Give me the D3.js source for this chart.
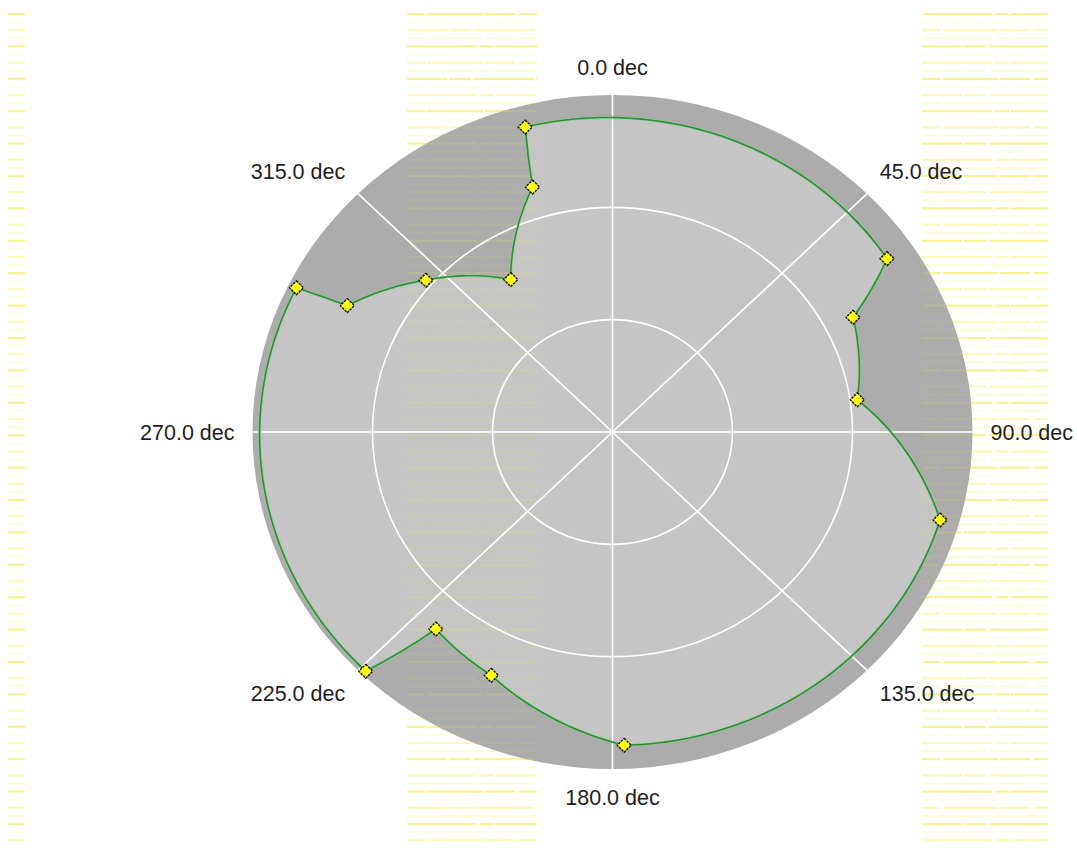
<!DOCTYPE html>
<html>
<head>
<meta charset="utf-8">
<script src="https://cdn.jsdelivr.net/npm/d3@7"></script>
<style>
  html, body { margin: 0; padding: 0; background: #ffffff; }
  svg { display: block; }
  text { font-family: "Liberation Sans", Arial, sans-serif; fill: #1e1e1e; }
</style>
</head>
<body>
<svg id="chart" width="1077" height="852"></svg>
<script>
// Polar series: angle in degrees (clockwise from north) and radial value.
const angles = [56, 63, 82, 106, 178, 205, 220, 224, 296, 297, 311, 328, 343, 345];
const values = [276, 225, 206, 284, 279, 239, 229, 296, 293, 248, 206, 160, 228, 281];

// Angular axis labels and radial grid levels.
const angleTicks = [0, 45, 90, 135, 180, 225, 270, 315];
const angleTickLabels = ["0.0 dec", "45.0 dec", "90.0 dec", "135.0 dec", "180.0 dec", "225.0 dec", "270.0 dec", "315.0 dec"];
const radialMax = 300;
const radialGrid = [100, 200];

// Pale yellow banded columns behind the plot.
const bandColumns = [[8, 25], [407, 537], [922, 1048]];

const W = 1077, H = 852;
const cx = 612.5, cy = 432, rx = 360, ry = 337;

const svg = d3.select("#chart");

const rScale = d3.scaleLinear().domain([0, radialMax]).range([0, 1]);
const aScale = d3.scaleLinear().domain([0, 360]).range([0, 2 * Math.PI]);

function px(a, v) { return cx + rx * rScale(v) * Math.sin(aScale(a)); }
function py(a, v) { return cy - ry * rScale(v) * Math.cos(aScale(a)); }

// Background bands
function drawBands(g, opacityScale) {
  const cycle = [0.6, 0.12, 0.38, 0.2];
  bandColumns.forEach(([x0, x1], ci) => {
    const ys = d3.range(14, 848, 8.1);
    g.selectAll(null)
      .data(ys)
      .join("line")
      .attr("x1", x0).attr("x2", x1)
      .attr("y1", d => d).attr("y2", d => d)
      .attr("stroke", "#f2f04c")
      .attr("stroke-width", 2.2)
      .attr("stroke-dasharray", (d, i) => ["40,2,22,3,60,2", "18,3,55,2,30,4", "70,3,14,2,44,2"][(i + ci) % 3])
      .attr("opacity", (d, i) => cycle[i % 4] * opacityScale);
  });
}

drawBands(svg.append("g"), 1);

const defs = svg.append("defs");
defs.append("clipPath").attr("id", "plotClip")
  .append("ellipse").attr("cx", cx).attr("cy", cy).attr("rx", rx).attr("ry", ry);

// Plot area
svg.append("ellipse")
  .attr("cx", cx).attr("cy", cy).attr("rx", rx).attr("ry", ry)
  .attr("fill", "#acacac");

// Series, sampled along each segment in polar space so segments follow arcs
const pts = angles.map((a, i) => ({ a, v: values[i] }));
function polarSamples(points) {
  const out = [];
  const n = points.length;
  for (let i = 0; i < n; i++) {
    const p0 = points[i];
    const p1 = points[(i + 1) % n];
    let a1 = p1.a;
    if (a1 < p0.a) a1 += 360;
    const steps = Math.max(2, Math.ceil((a1 - p0.a) / 1));
    const ia = d3.interpolateNumber(p0.a, a1);
    const iv = d3.interpolateNumber(p0.v, p1.v);
    for (let k = 0; k < steps; k++) {
      const t = k / steps;
      out.push({ a: ia(t), v: iv(t) });
    }
  }
  return out;
}
const samples = polarSamples(pts);
const line = d3.line().x(d => px(d.a, d.v)).y(d => py(d.a, d.v));

svg.append("path")
  .attr("d", line(samples) + "Z")
  .attr("fill", "#c5c5c5");

// Faint band show-through inside the plot area
drawBands(svg.append("g").attr("clip-path", "url(#plotClip)"), 0.25);

// Grid
const grid = svg.append("g").attr("stroke", "#ffffff").attr("stroke-width", 1.6).attr("fill", "none");
grid.selectAll("ellipse")
  .data(radialGrid)
  .join("ellipse")
  .attr("cx", cx).attr("cy", cy)
  .attr("rx", d => rx * rScale(d))
  .attr("ry", d => ry * rScale(d));
grid.selectAll("line")
  .data(angleTicks)
  .join("line")
  .attr("x1", cx).attr("y1", cy)
  .attr("x2", d => px(d, radialMax))
  .attr("y2", d => py(d, radialMax));

// Angular labels placed just outside the plot edge
const pad = 18;
svg.append("g").selectAll("text")
  .data(angleTicks)
  .join("text")
  .attr("x", d => cx + (rx + pad) * Math.sin(aScale(d)))
  .attr("y", d => cy - (ry + pad) * Math.cos(aScale(d)))
  .attr("font-size", 21.5)
  .attr("text-anchor", d => {
    const s = Math.sin(aScale(d));
    return s > 0.01 ? "start" : s < -0.01 ? "end" : "middle";
  })
  .attr("dy", d => {
    const c = Math.cos(aScale(d));
    return c > 0.01 ? "-0.08em" : c < -0.01 ? "0.85em" : "0.35em";
  })
  .text((d, i) => angleTickLabels[i]);

// Series line
svg.append("path")
  .attr("d", line(samples) + "Z")
  .attr("fill", "none")
  .attr("stroke", "#8fd08f")
  .attr("stroke-width", 3.2)
  .attr("stroke-opacity", 0.6);
svg.append("path")
  .attr("d", line(samples) + "Z")
  .attr("fill", "none")
  .attr("stroke", "#2e8f3a")
  .attr("stroke-width", 1.6);

// Markers
const diamond = d3.symbol().type(d3.symbolSquare).size(98);
svg.append("g").selectAll("path")
  .data(pts)
  .join("path")
  .attr("d", diamond)
  .attr("transform", d => `translate(${px(d.a, d.v)},${py(d.a, d.v)}) rotate(45)`)
  .attr("fill", "#ffff10")
  .attr("stroke", "#1a1a1a")
  .attr("stroke-width", 1.5)
  .attr("stroke-dasharray", "2.5,1")
  .attr("stroke-linejoin", "round");
</script>
</body>
</html>
